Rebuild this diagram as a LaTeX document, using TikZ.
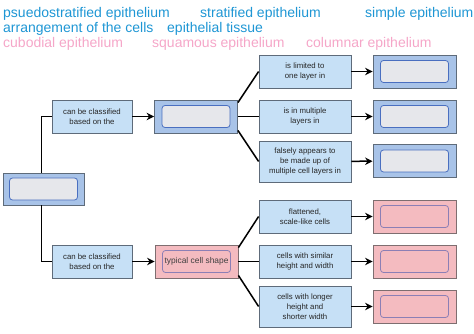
\documentclass[tikz,border=0pt]{standalone}
\usepackage{fontspec}
\setmainfont{Liberation Sans}
\usetikzlibrary{arrows.meta, positioning}
\definecolor{wordblue}{HTML}{1E96D4}
\definecolor{wordpink}{HTML}{F5A6C8}
\definecolor{boxblue}{HTML}{C6E0F6}
\definecolor{framegray}{HTML}{5E6B7A}
\definecolor{slotblue}{HTML}{A8C3E8}
\definecolor{slotedge}{HTML}{4A6FC0}
\definecolor{slotgray}{HTML}{E6E7EB}
\definecolor{slotpink}{HTML}{F4BBC0}
\definecolor{pinkedge}{HTML}{8C7FB5}
\definecolor{pinkframe}{HTML}{7E6E70}
\tikzset{
  word/.style={anchor=base west, inner sep=0pt, font=\fontsize{14}{16}\selectfont},
  textbox/.style={draw=framegray, fill=boxblue, line width=0.8pt, inner sep=0pt,
    minimum width=80pt, minimum height=33pt, align=center,
    font=\fontsize{7.8}{10}\selectfont, text=black!85},
  wide/.style={minimum width=92pt},
  slot/.style={draw=framegray, fill=slotblue, line width=0.8pt, inner sep=0pt,
    minimum width=83pt, minimum height=33pt},
  hole/.style={draw=slotedge, fill=slotgray, line width=0.8pt, rounded corners=3pt,
    inner sep=0pt, minimum width=68pt, minimum height=22pt,
    font=\fontsize{8.4}{9}\selectfont, text=black!75},
  pinkslot/.style={slot, draw=pinkframe, fill=slotpink},
  pinkhole/.style={hole, draw=pinkedge, fill=slotpink},
  link/.style={line width=1.5pt, black},
  arrow/.style={link, -{Stealth[length=7.5pt, width=7.5pt]}}
}
\begin{document}
\begin{tikzpicture}[x=1pt, y=-1pt]
\useasboundingbox (0,0) rectangle (474,334);
% word bank
\node[word, text=wordblue] (w1) at (3,18) {psuedostratified epithelium};
\node[word, text=wordblue] (w2) at (200,18) {stratified epithelium};
\node[word, text=wordblue] (w3) at (365,18) {simple epithelium};
\node[word, text=wordblue] (w4) at (3,33) {arrangement of the cells};
\node[word, text=wordblue] (w5) at (167,33) {epithelial tissue};
\node[word, text=wordpink] (w6) at (3,48) {cubodial epithelium};
\node[word, text=wordpink] (w7) at (152,48) {squamous epithelium};
\node[word, text=wordpink] (w8) at (306,48) {columnar epithelium};

% root
\node[slot, minimum width=81pt, minimum height=32pt] (root) at (43.5,189) {};
\node[hole] (rootin) at (root) {};

% upper branch
\node[textbox] (upper) at (92,116.5) {can be classified\\based on the};
\node[slot] (arrange) at (196,116.5) {};
\node[hole] (arrangein) at (arrange) {};
\node[textbox, wide] (limited) at (305,71.5) {is limited to\\one layer in};
\node[textbox, wide] (multiple) at (305,116.5) {is in multiple\\layers in};
\node[textbox, wide, minimum height=41pt] (falsely) at (305,161.5) {falsely appears to\\be made up of\\multiple cell layers in};
\node[slot] (simple) at (414.5,71.5) {};
\node[hole] (simplein) at (simple) {};
\node[slot] (strat) at (414.5,116.5) {};
\node[hole] (stratin) at (strat) {};
\node[slot] (pseudo) at (414.5,161) {};
\node[hole] (pseudoin) at (pseudo) {};

% lower branch
\node[textbox] (lower) at (92,261.5) {can be classified\\based on the};
\node[pinkslot] (shape) at (196.5,261.5) {};
\node[pinkhole] (shapein) at (shape) {typical cell shape};
\node[textbox, wide] (flat) at (305,216.5) {flattened,\\scale-like cells};
\node[textbox, wide] (similar) at (305,261.5) {cells with similar\\height and width};
\node[textbox, wide, minimum height=41pt] (longer) at (305,306.5) {cells with longer\\height and\\shorter width};
\node[pinkslot] (squam) at (414.5,216.5) {};
\node[pinkhole] (squamin) at (squam) {};
\node[pinkslot] (cubo) at (414.5,261.5) {};
\node[pinkhole] (cuboin) at (cubo) {};
\node[pinkslot] (column) at (414.5,306.5) {};
\node[pinkhole] (columnin) at (column) {};

% connectors
\draw[link] ([xshift=-2pt]root.north) |- (upper.west);
\draw[link] ([xshift=-2pt]root.south) |- (lower.west);
\draw[arrow] (upper) -- (arrange);
\draw[arrow] (lower) -- (shape);
\draw[link] ([yshift=-3pt]arrange.north east) -- (limited.west);
\draw[link] (arrange.east) -- (multiple.west);
\draw[link] ([yshift=3pt]arrange.south east) -- (falsely.west);
\draw[link] ([yshift=-3pt]shape.north east) -- (flat.west);
\draw[link] (shape.east) -- (similar.west);
\draw[link] ([yshift=3pt]shape.south east) -- (longer.west);
\draw[arrow] (limited) -- (simple);
\draw[arrow] (multiple) -- (strat);
\draw[arrow] (falsely) -- (pseudo);
\draw[arrow] (flat) -- (squam);
\draw[arrow] (similar) -- (cubo);
\draw[arrow] (longer) -- (column);
\end{tikzpicture}
\end{document}
